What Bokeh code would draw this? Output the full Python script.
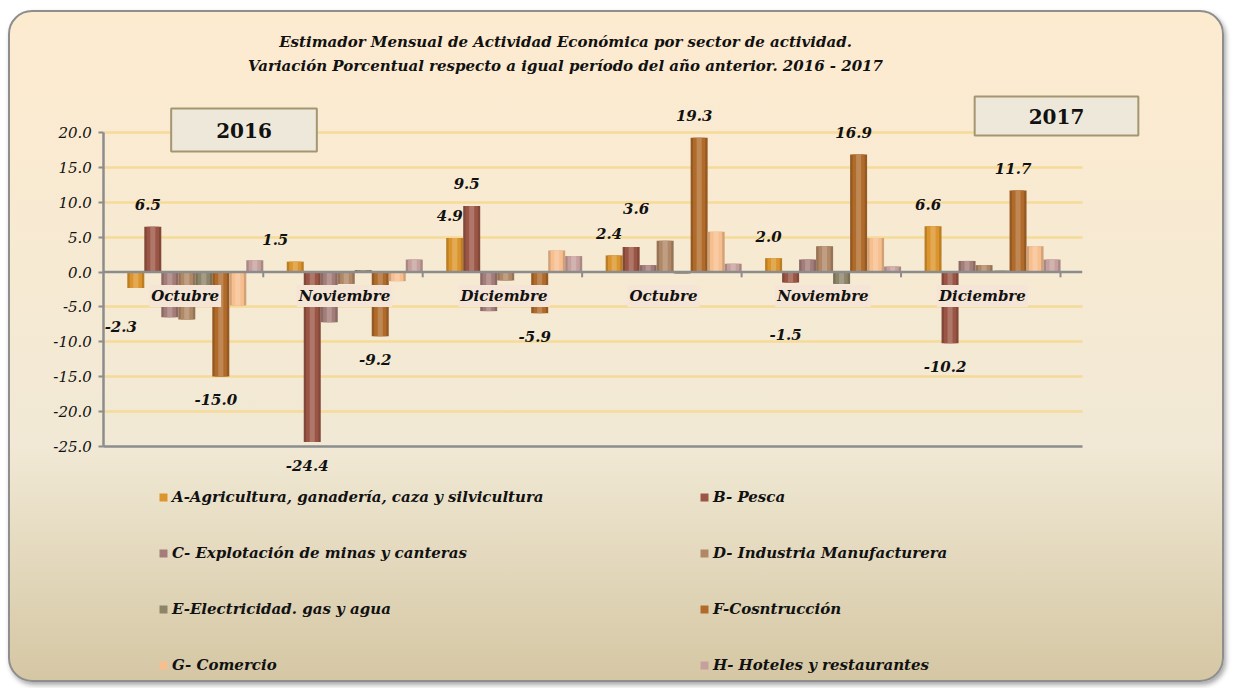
from bokeh.plotting import figure
from bokeh.models import (Range1d, FixedTicker, Label, Legend, LegendItem,
                          NumeralTickFormatter, ColumnDataSource)
from bokeh.core.properties import value
from bokeh.embed import file_html
from bokeh.resources import INLINE

# ---------------- data ----------------
months = ["Octubre", "Noviembre", "Diciembre", "Octubre", "Noviembre", "Diciembre"]
years = ["2016", "2017"]
series_names = [
    "A-Agricultura, ganadería, caza y silvicultura",
    "B- Pesca",
    "C- Explotación de minas y canteras",
    "D- Industria Manufacturera",
    "E-Electricidad. gas y agua",
    "F-Cosntrucción",
    "G- Comercio",
    "H- Hoteles y restaurantes",
]
A = [-2.3, 1.5, 4.9, 2.4, 2.0, 6.6]
B = [6.5, -24.4, 9.5, 3.6, -1.5, -10.2]
C = [-6.5, -7.2, -5.6, 1.0, 1.8, 1.6]
D = [-6.8, -1.7, -1.2, 4.5, 3.7, 1.0]
E = [-3.5, 0.3, -0.1, -0.2, -1.7, 0.2]
F = [-15.0, -9.2, -5.9, 19.3, 16.9, 11.7]
G = [-4.8, -1.3, 3.1, 5.8, 4.9, 3.7]
H = [1.7, 1.8, 2.3, 1.2, 0.8, 1.8]
series_values = [A, B, C, D, E, F, G, H]
labelled_series = [0, 1, 5]          # A, B and F carry value labels
y_ticks = [-25, -20, -15, -10, -5, 0, 5, 10, 15, 20]
y_min, y_max = -25, 20

# ---------------- styling / layout ----------------
colors = ["#DC952C", "#9A5544", "#A47C78", "#B08866", "#8E8468", "#B06A2A", "#F7BE8E", "#C6A09C"]
FONT = "DejaVu Serif"
W, H_ = 1216, 672               # canvas size (inside the rounded panel's 2px border)
X0_PX, Y0_PX = 93.3, 259.6      # canvas position of data origin (x=0 category edge, y=0)
GROUP_PX = 159.45               # width of one category in pixels
Y_PX = 6.964                    # pixels per percentage point
PLOT_RIGHT_PX = 1071.7          # right end of the plotting area
BAR_PX = 17.0
LEAD_PX = 23.5
bar_w = BAR_PX / GROUP_PX
x_end_data = (PLOT_RIGHT_PX - X0_PX) / GROUP_PX
# hand nudges (dx, dy in px) for a few value labels that sit away from their bars
nudge = {(0, 0): (-10, 15), (1, 0): (-15, 0), (3, 1): (10, 17), (4, 1): (0, 29)}

p = figure(width=W, height=H_,
           x_range=Range1d(-X0_PX / GROUP_PX, (W - X0_PX) / GROUP_PX),
           y_range=Range1d(-(H_ - Y0_PX) / Y_PX, Y0_PX / Y_PX),
           output_backend="svg", toolbar_location=None,
           min_border_left=0, min_border_right=0, min_border_top=0, min_border_bottom=0)
p.background_fill_color = None
p.border_fill_color = None
p.outline_line_color = None
p.styles = {
    "background": "linear-gradient(180deg, #FDEBD0 0%, #F8EAD2 30%, #F1E9D5 65%, #D5C7A4 100%)",
    "border": "2px solid #8E8E8E",
    "border-radius": "24px",
    "box-shadow": "2px 3px 5px rgba(0,0,0,0.35)",
    "margin-left": "8px",
    "margin-top": "10px",
}

# axes (drawn at fixed data locations inside the panel)
p.yaxis.fixed_location = 0
p.yaxis.bounds = (y_min, y_max)
p.yaxis.ticker = FixedTicker(ticks=y_ticks)
p.yaxis.formatter = NumeralTickFormatter(format="0.0")
p.yaxis.major_label_text_font = FONT
p.yaxis.major_label_text_font_style = "italic"
p.yaxis.major_label_text_font_size = "15px"
p.yaxis.major_label_text_color = "#111111"
p.yaxis.axis_line_color = "#8C8C8C"
p.yaxis.axis_line_width = 2.5
p.yaxis.major_tick_line_color = "#8C8C8C"
p.yaxis.major_tick_line_width = 2
p.yaxis.major_tick_out = 5
p.yaxis.major_tick_in = 0
p.yaxis.minor_tick_line_color = None
p.yaxis.major_label_standoff = 7

p.xaxis.fixed_location = y_min
p.xaxis.bounds = (0, x_end_data)
p.xaxis.ticker = FixedTicker(ticks=[])
p.xaxis.major_label_text_font_size = "0px"
p.xaxis.axis_line_color = "#8C8C8C"
p.xaxis.axis_line_width = 2.5
p.xaxis.major_tick_line_color = None
p.xaxis.minor_tick_line_color = None

p.xgrid.visible = False
p.ygrid.ticker = FixedTicker(ticks=[t for t in y_ticks if t not in (0, y_min)])
p.ygrid.cross_bounds = (0, x_end_data)
p.ygrid.grid_line_color = "#F5DA98"
p.ygrid.grid_line_width = 2.5

# bars
def lighten(hexc, f):
    r, g, b = int(hexc[1:3], 16), int(hexc[3:5], 16), int(hexc[5:7], 16)
    r, g, b = [int(c + (255 - c) * f) for c in (r, g, b)]
    return "#%02x%02x%02x" % (r, g, b)

def darken(hexc, f):
    r, g, b = int(hexc[1:3], 16), int(hexc[3:5], 16), int(hexc[5:7], 16)
    r, g, b = [int(c * (1 - f)) for c in (r, g, b)]
    return "#%02x%02x%02x" % (r, g, b)

legend_renderers = []
bar_x = []
for j, vals in enumerate(series_values):
    xs = [i + (LEAD_PX + BAR_PX * (j + 0.5)) / GROUP_PX for i in range(len(months))]
    bar_x.append(xs)
    src = ColumnDataSource(dict(x=xs, top=vals))
    p.vbar(x="x", top="top", bottom=0, width=bar_w, source=src,
           fill_color=darken(colors[j], 0.15), line_color=None)
    r = p.vbar(x="x", top="top", bottom=0, width=bar_w * 0.72, source=src,
               fill_color=colors[j], line_color=None)
    p.vbar(x="x", top="top", bottom=0, width=bar_w * 0.3, source=src,
           fill_color=lighten(colors[j], 0.2), line_color=None)
    legend_renderers.append(r)

# zero line + category boundary ticks
bounds = list(range(1, len(months) + 1))
p.segment(x0=[0], y0=[0], x1=[x_end_data], y1=[0], line_color="#8C8C8C", line_width=2.5)
p.segment(x0=bounds, y0=[0] * len(bounds), x1=bounds, y1=[-0.75] * len(bounds),
          line_color="#8C8C8C", line_width=2)

# category labels on the zero line
p.text(x=[i + 0.51 for i in range(len(months))], y=[0] * len(months), text=months,
       text_font=value(FONT), text_font_style="bold italic", text_font_size="15px",
       text_color="#111111", text_align="center", text_baseline="middle", y_offset=24,
       background_fill_color="#F4E5D6", padding=2)

# value labels
lx, ly, lt, lxo, lyo = [], [], [], [], []
for j in labelled_series:
    for i, v in enumerate(series_values[j]):
        dx, dy = nudge.get((i, j), (0, 0))
        lx.append(bar_x[j][i]); ly.append(v); lt.append("%.1f" % v)
        lxo.append(-5 + dx)
        lyo.append((-22 - dy) if v >= 0 else (23 + dy))
p.text(x=lx, y=ly, text=lt, x_offset=lxo, y_offset=lyo,
       text_font=value(FONT), text_font_style="bold italic", text_font_size="15px",
       text_color="#111111", text_align="center", text_baseline="middle")

# title
for k, line in enumerate(["Estimador Mensual de Actividad Económica por sector de actividad.",
                          "Variación Porcentual respecto a igual período del año anterior. 2016 - 2017"]):
    p.add_layout(Label(x=555, y=H_ - 29 - 24 * k, x_units="screen", y_units="screen", text=line,
                       text_font=FONT, text_font_style="bold italic", text_font_size="15px",
                       text_color="#111111", text_align="center", text_baseline="middle"))

# year boxes
for txt, (bx, by), pad in [(years[0], (233.5, H_ - 117.5), (45, 14)),
                           (years[1], (1046, H_ - 103.5), (54, 12))]:
    p.add_layout(Label(x=bx + 3, y=by - 4, x_units="screen", y_units="screen", text=txt,
                       text_font=FONT, text_font_style="bold", text_font_size="20px",
                       text_color=None, text_align="center", text_baseline="middle",
                       background_fill_color="#000000", background_fill_alpha=0.18, padding=pad))
    p.add_layout(Label(x=bx, y=by, x_units="screen", y_units="screen", text=txt,
                       text_font=FONT, text_font_style="bold", text_font_size="20px",
                       text_color="#111111", text_align="center", text_baseline="middle",
                       background_fill_color="#EEE8DA", border_line_color="#A39670",
                       border_line_width=2, padding=pad))

# legend: two columns of four
for col, xloc in enumerate([148, 689]):
    items = [LegendItem(label=series_names[j], renderers=[legend_renderers[j]])
             for j in range(col, len(series_names), 2)]
    leg = Legend(items=items, location=(xloc, 9), orientation="vertical",
                 glyph_width=10, glyph_height=10, label_height=20, spacing=36,
                 label_standoff=4, padding=0, margin=0,
                 label_text_font=FONT, label_text_font_style="bold italic",
                 label_text_font_size="15px", label_text_color="#111111",
                 background_fill_alpha=0, border_line_color=None)
    p.add_layout(leg, "center")

open("out.html", "w").write(file_html(p, INLINE))
